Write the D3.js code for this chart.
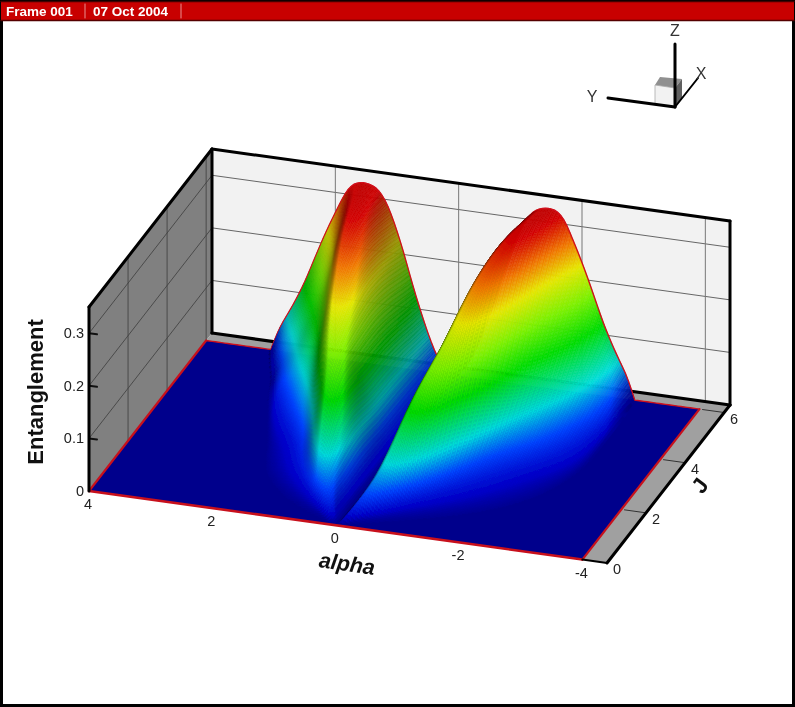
<!DOCTYPE html>
<html><head><meta charset="utf-8">
<style>html,body{margin:0;padding:0;background:#fff}svg{display:block;filter:blur(0.55px)}text{font-family:"Liberation Sans",Arial,sans-serif}</style>
<script src="https://cdn.jsdelivr.net/npm/d3@7"></script></head><body>
<svg id="c" width="795" height="707"><defs><filter id="soft" filterUnits="userSpaceOnUse" x="0" y="0" width="795" height="707"><feGaussianBlur stdDeviation="0.7"/></filter></defs></svg>
<script>
// ---- data ----
const frameLabels = ["Frame 001", "07 Oct 2004"];
const alphaTicks = [4, 2, 0, -2, -4];
const jTicks = [0, 2, 4, 6];
const zTicks = [0, 0.1, 0.2, 0.3];
const axisTitles = {z: "Entanglement", alpha: "alpha", j: "J"};
// ridge of each lobe, per J (J = 0, 0.5, ... 6)
const jValues    = [0,.5,1,1.5,2,2.5,3,3.5,4,4.5,5,5.5,6];
const ridgeAlpha = [.05,.3,.5,.62,.72,.85,1.0,1.1,1.18,1.27,1.35,1.43,1.5];
const ridgeSkew  = [0,0,0,0,0,0,0,0,0,.01,.02,.04,.06];
const ridgeHeight= [0,.03,.06,.10,.15,.19,.225,.262,.295,.32,.335,.34,.342];
const outerEdgeRight = [.05,1.1,1.9,2.4,2.7,2.85,2.95,3.0,3.0,3.0,3.0,2.98,2.95];
const outerEdgeLeft  = [.05,.9,1.35,1.65,1.8,1.9,2.05,2.2,2.35,2.5,2.6,2.8,2.95];
const outerBlend = [0,0,0,0,0,.03,.1,.2,.3,.45,.6,.8,1];
// slice shapes: share of ridge height across alpha
const innerShape = [0,.025,.09,.2,.33,.47,.63,.77,.89,.965,.995,1];
const outerRound = [1,.995,.95,.85,.75,.64,.52,.40,.30,.21,.13,0];
const outerSteep = [1,.95,.65,.36,.2,.13,.09,.06,.04,.025,.012,0];
const colorStops = [0,.008,.035,.07,.136,.19,.243,.285,.33,.35];
const colorRamp = ["#00008c","#0000c8","#0046ff","#00dcdc","#00dc00","#7cf000","#e6e600","#f07800","#d20000","#b40000"];

// ---- scales: oblique box projection ----
const aBox = [4,-4.4], jBox = [0,6.3], zBox = [0,.35];
const xA = d3.scaleLinear().domain(aBox).range([89,607]);
const yA = d3.scaleLinear().domain(aBox).range([491,563]);
const xJ = d3.scaleLinear().domain(jBox).range([0,123]);
const yJ = d3.scaleLinear().domain(jBox).range([0,-158]);
const yZ = d3.scaleLinear().domain(zBox).range([0,-184]);
const P = (a,j,z=0)=>[xA(a)+xJ(j), yA(a)+yJ(j)+yZ(z)];
const color = d3.scaleLinear().domain(colorStops).range(colorRamp).interpolate(d3.interpolateRgb).clamp(true);

const rA=d3.interpolateBasis(ridgeAlpha), rS=d3.interpolateBasis(ridgeSkew), rH=d3.interpolateBasis(ridgeHeight), rER=d3.interpolateBasis(outerEdgeRight), rEL=d3.interpolateBasis(outerEdgeLeft), rB=d3.interpolateBasis(outerBlend);
const pI=d3.interpolateBasis(innerShape), pR=d3.interpolateBasis(outerRound), pS=d3.interpolateBasis(outerSteep);
function zAt(a,j){
  const u=j/d3.max(jValues), aa=Math.abs(a), ap=rA(u)+(a>0?-1:1)*rS(u), h=rH(u), e=a>0?rEL(u):rER(u);
  if(aa>=e) return 0;
  if(aa<=ap) return Math.max(0,h*pI(aa/ap));
  const t=(aa-ap)/(e-ap), b=rB(u);
  return Math.max(0,h*((1-b)*pS(t)+b*pR(t)));
}
// lighting in box-scaled coordinates
const SX=1/8.4, SY=.75/6.3, SZ=.5/.35;
const L=(()=>{const v=[-.15,-.8,.58],n=Math.hypot(...v);return v.map(d=>d/n)})();
function shade(a,j){
  const d=.04, dza=(zAt(a+d,j)-zAt(a-d,j))/(2*d), j0=Math.max(0,j-d), j1=Math.min(6,j+d), dzj=(zAt(a,j1)-zAt(a,j0))/(j1-j0);
  const nx=-dza*SZ/SX, ny=-dzj*SZ/SY, nz=1, m=Math.hypot(nx,ny,nz);
  const dot=Math.max(0,(nx*L[0]+ny*L[1]+nz*L[2])/m);
  return Math.min(1,.3+1.5*dot);
}
const svg=d3.select("#c");
const path=pts=>"M"+pts.map(p=>p[0].toFixed(1)+","+p[1].toFixed(1)).join("L")+"Z";
const lineGen=d3.line();
const poly=(pts,fill)=>svg.append("path").attr("d",path(pts)).attr("fill",fill).attr("stroke","none");
const seg=(p,q,w,c="#000")=>svg.append("line").attr("x1",p[0]).attr("y1",p[1]).attr("x2",q[0]).attr("y2",q[1]).attr("stroke",c).attr("stroke-width",w).attr("stroke-linecap","round");

// frame
svg.append("rect").attr("x",0).attr("y",0).attr("width",795).attr("height",707).attr("fill","#fff");
svg.append("rect").attr("x",1.5).attr("y",1.5).attr("width",792).attr("height",704).attr("fill","none").attr("stroke","#000").attr("stroke-width",3);
svg.append("rect").attr("x",1).attr("y",1).attr("width",793).attr("height",20).attr("fill","#c80000");
seg([1,1.5],[794,1.5],1.5,"#400"); seg([1,20.5],[794,20.5],1.5,"#500");
[85,181].forEach(x=>seg([x,4],[x,18],1,"#e89090"));
svg.selectAll(".fl").data(frameLabels).join("text").attr("x",(d,i)=>[6,93][i]).attr("y",15.5)
  .attr("fill","#fff").attr("font-size",13.5).attr("font-weight","bold").text(d=>d);

// walls and floor
poly([P(4,0),P(4,6.3),P(4,6.3,.35),P(4,0,.35)],"#808080");
poly([P(4,6.3),P(-4.4,6.3),P(-4.4,6.3,.35),P(4,6.3,.35)],"#f2f2f2");
poly([P(4,0),P(-4.4,0),P(-4.4,6.3),P(4,6.3)],"#a0a0a0");
// grid
zTicks.slice(1).forEach(z=>{seg(P(4,0,z),P(4,6.3,z),.9,"#444");seg(P(4,6.3,z),P(-4.4,6.3,z),1,"#666");
  seg(P(4,0,z),[P(4,0,z)[0]+8,P(4,0,z)[1]+1],2,"#111");});
jTicks.slice(1).forEach(j=>{seg(P(4,j),P(4,j,.35),.9,"#444");});
alphaTicks.slice(1).forEach(a=>seg(P(a,6.3),P(a,6.3,.35),1,"#777"));
seg(P(4,6.3),P(-4.4,6.3),3.2);
// blue floor
poly([P(4,0),P(-4,0),P(-4,6),P(4,6)],color(0));
jTicks.slice(1).forEach(j=>{seg(P(-4.4,j),P(-4.05,j),1,"#333")});

// surface cells, far to near
const aSteps=d3.range(128,-129,-1).map(i=>i*.025);
const jBreak=d3.range(0,121).map(i=>i*.05);
const cellsFor=(k)=>{const out=[];const j0=jBreak[k],j1=jBreak[k+1];
  for(let i=0;i<aSteps.length-1;i++){const a0=aSteps[i],a1=aSteps[i+1];
    const zs=[zAt(a0,j0),zAt(a1,j0),zAt(a1,j1),zAt(a0,j1)];
    if(d3.max(zs)<.0012)continue;
    const am=(a0+a1)/2,jm=(j0+j1)/2,zm=d3.mean(zs);
    const c=d3.rgb(color(zm)),s=shade(am,jm);
    out.push({d:path([P(a0,j0,zs[0]),P(a1,j0,zs[1]),P(a1,j1,zs[2]),P(a0,j1,zs[3])]),f:d3.rgb(c.r*s,c.g*s,c.b*s).formatHex()});}
  return out;};
const drawRow=(g,k)=>g.selectAll(null).data(cellsFor(k)).join("path").attr("d",d=>d.d).attr("fill",d=>d.f).attr("stroke",d=>d.f).attr("stroke-width",.5);
const aFine=d3.range(-80,81).map(i=>i*.05);
const back=svg.append("g");
drawRow(back,jBreak.length-2);
svg.append("path").attr("d",lineGen(aFine.map(a=>P(a,6,zAt(a,6))))).attr("fill","none").attr("stroke","#d0101c").attr("stroke-width",1.4);
const rest=svg.append("g").attr("filter","url(#soft)");
for(let k=jBreak.length-3;k>=0;k--)drawRow(rest,k);
// red borders
const RED="#c8101c";
seg(P(4,0),P(4,6),2.2,RED);seg(P(-4,0),P(-4,6),2.2,RED);seg(P(4,0),P(-4,0),2.6,RED);

// box frame
seg(P(4,0),P(4,0,.35),3);seg(P(4,6.3),P(4,6.3,.35),3);seg(P(-4.4,6.3),P(-4.4,6.3,.35),3);
seg(P(4,0,.35),P(4,6.3,.35),3);seg(P(4,6.3,.35),P(-4.4,6.3,.35),3);
seg(P(-4.4,0),P(-4.4,6.3),3);seg(P(-4,0),P(-4.4,0),2);

// tick labels
const tick=(x,y,t,anc="middle")=>svg.append("text").attr("x",x).attr("y",y).attr("text-anchor",anc).attr("font-size",14.5).attr("fill","#222").text(t);
zTicks.forEach(z=>{const p=P(4,0,z);tick(p[0]-5,p[1]+5,String(z),"end");});
alphaTicks.forEach(a=>{const p=P(a,0);tick(p[0]-1,p[1]+18,String(a));});
jTicks.forEach(j=>{const p=P(-4.4,j);tick(p[0]+10,p[1]+11,String(j));});
// titles
const title=(x,y,r,t,st,fs)=>svg.append("text").attr("transform",`translate(${x},${y}) rotate(${r})`).attr("text-anchor","middle").attr("font-weight","bold").attr("font-size",fs).attr("font-style",st||"normal").attr("fill","#111").text(t);
title(43,392,-90,axisTitles.z,"normal",22);
title(346,571,8,axisTitles.alpha,"italic",21.5);
title(706,490,-53,axisTitles.j,"normal",22);

// orientation triad
poly([[655,85],[675,88],[675,107],[655,104]],"#f2f2f2");
poly([[655,85],[660,77],[682,79],[675,88]],"#909090");
poly([[675,88],[682,79],[682,98],[675,107]],"#606060");
svg.append("path").attr("d","M655,85L675,88L675,107L655,104Z").attr("fill","none").attr("stroke","#aaa").attr("stroke-width",.8);
seg([675,107],[675,44],3);seg([675,107],[608,98],3);seg([675,107],[698,78],2);
[["Z",675,36],["Y",592,102],["X",701,79]].forEach(([t,x,y])=>svg.append("text").attr("x",x).attr("y",y).attr("text-anchor","middle").attr("font-size",16).attr("fill","#333").text(t));
</script></body></html>
